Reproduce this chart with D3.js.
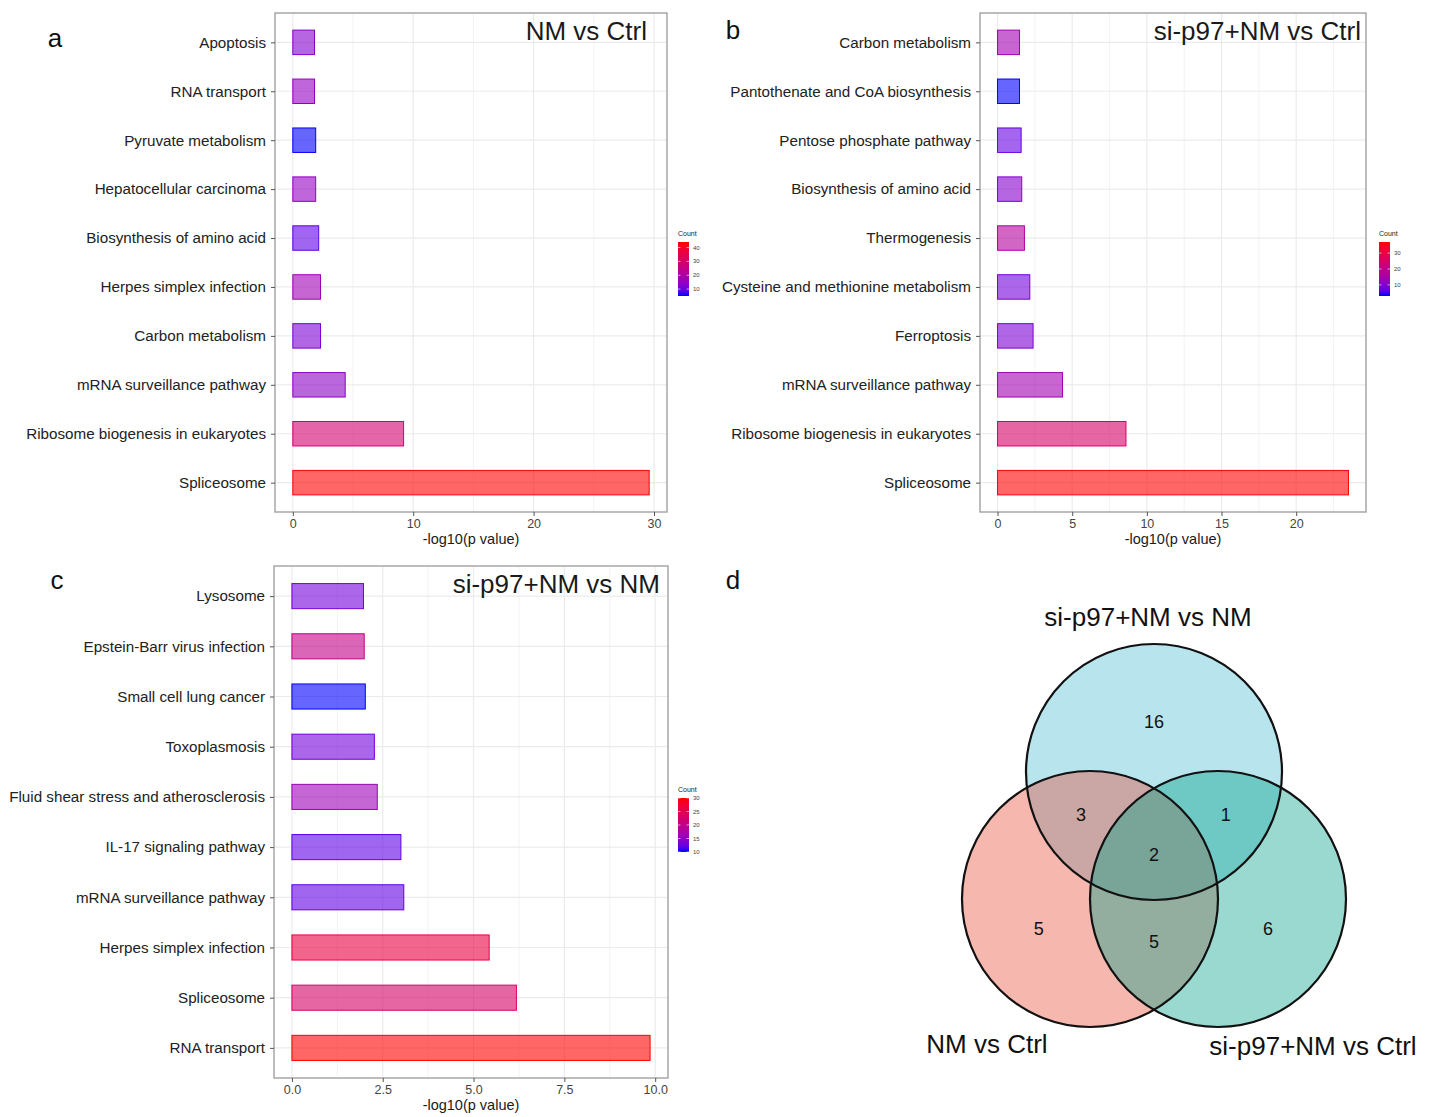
<!DOCTYPE html>
<html>
<head>
<meta charset="utf-8">
<script src="https://cdn.jsdelivr.net/npm/d3@7"></script>
<style>
  body { margin: 0; background: #fff; }
  svg { font-family: "Liberation Sans", Arial, sans-serif; }
</style>
</head>
<body>
<div id="chart"></div>
<script>
// ---- data ----
// panel a: NM vs Ctrl
const pathwaysA = ["Apoptosis", "RNA transport", "Pyruvate metabolism", "Hepatocellular carcinoma",
  "Biosynthesis of amino acid", "Herpes simplex infection", "Carbon metabolism",
  "mRNA surveillance pathway", "Ribosome biogenesis in eukaryotes", "Spliceosome"];
const logpA = [1.8, 1.8, 1.9, 1.9, 2.15, 2.3, 2.3, 4.35, 9.2, 29.6];
const countA = [13, 15, 5, 15, 9, 17, 12, 14, 29, 44];
const ticksA = [0, 10, 20, 30];
const legendTicksA = [10, 20, 30, 40];

// panel b: si-p97+NM vs Ctrl
const pathwaysB = ["Carbon metabolism", "Pantothenate and CoA biosynthesis", "Pentose phosphate pathway",
  "Biosynthesis of amino acid", "Thermogenesis", "Cysteine and methionine metabolism",
  "Ferroptosis", "mRNA surveillance pathway", "Ribosome biogenesis in eukaryotes", "Spliceosome"];
const logpB = [1.47, 1.47, 1.58, 1.62, 1.8, 2.16, 2.38, 4.35, 8.6, 23.5];
const countB = [14, 3, 7, 10, 17, 8, 9, 14, 25, 37];
const ticksB = [0, 5, 10, 15, 20];
const legendTicksB = [10, 20, 30];

// panel c: si-p97+NM vs NM
const pathwaysC = ["Lysosome", "Epstein-Barr virus infection", "Small cell lung cancer", "Toxoplasmosis",
  "Fluid shear stress and atherosclerosis", "IL-17 signaling pathway", "mRNA surveillance pathway",
  "Herpes simplex infection", "Spliceosome", "RNA transport"];
const logpC = [1.97, 1.99, 2.02, 2.27, 2.35, 3.0, 3.08, 5.43, 6.18, 9.86];
const countC = [13, 20, 10, 13, 16, 12, 12, 26, 23, 30];
const ticksC = [0, 2.5, 5, 7.5, 10];
const legendTicksC = [10, 15, 20, 25, 30];

// panel d: venn
const vennSets = ["si-p97+NM vs NM", "NM vs Ctrl", "si-p97+NM vs Ctrl"];
const vennRegions = ["A", "B", "C", "AB", "AC", "BC", "ABC"];
const vennCounts = [16, 5, 6, 3, 1, 5, 2];

// ---- layout ----
const W = 1436, H = 1117;
const svg = d3.select("#chart").append("svg")
  .attr("width", W).attr("height", H);

const gridCol = "#ebebeb";
const borderCol = "#9a9a9a";

function drawBarPanel(o) {
  const g = svg.append("g");
  const { left, right, top, bottom } = o.box;

  const maxV = d3.max(o.values);
  const x = d3.scaleLinear()
    .domain([-0.05 * maxV, 1.05 * maxV])
    .range([left, right]);
  const y = d3.scalePoint()
    .domain(o.names)
    .range([top, bottom])
    .padding(0.6);
  const barH = y.step() * 0.5;

  const color = d3.scaleLinear()
    .domain(d3.extent(o.counts))
    .range(["blue", "red"])
    .interpolate(d3.interpolateLab);

  // minor gridlines (midpoints)
  const minors = o.ticks.slice(1).map((t, i) => (t + o.ticks[i]) / 2);
  const lastStep = o.ticks[1] - o.ticks[0];
  const extraMinor = o.ticks[o.ticks.length - 1] + lastStep / 2;
  if (extraMinor < x.domain()[1]) minors.push(extraMinor);
  g.selectAll(".minor")
    .data(minors)
    .join("line")
    .attr("x1", d => x(d)).attr("x2", d => x(d))
    .attr("y1", top).attr("y2", bottom)
    .attr("stroke", gridCol).attr("stroke-width", 0.6);

  // major gridlines
  g.selectAll(".majorx")
    .data(o.ticks)
    .join("line")
    .attr("x1", d => x(d)).attr("x2", d => x(d))
    .attr("y1", top).attr("y2", bottom)
    .attr("stroke", gridCol).attr("stroke-width", 1.2);
  g.selectAll(".majory")
    .data(o.names)
    .join("line")
    .attr("x1", left).attr("x2", right)
    .attr("y1", d => y(d)).attr("y2", d => y(d))
    .attr("stroke", gridCol).attr("stroke-width", 1.2);

  // bars
  g.selectAll(".bar")
    .data(o.names)
    .join("rect")
    .attr("x", x(0))
    .attr("y", d => y(d) - barH / 2)
    .attr("width", (d, i) => x(o.values[i]) - x(0))
    .attr("height", barH)
    .attr("fill", (d, i) => color(o.counts[i]))
    .attr("fill-opacity", 0.6)
    .attr("stroke", (d, i) => color(o.counts[i]))
    .attr("stroke-width", 1);

  // panel border
  g.append("rect")
    .attr("x", left).attr("y", top)
    .attr("width", right - left).attr("height", bottom - top)
    .attr("fill", "none")
    .attr("stroke", borderCol).attr("stroke-width", 1.3);

  // x axis
  const xa = g.append("g")
    .attr("transform", `translate(0,${bottom})`)
    .call(d3.axisBottom(x).tickValues(o.ticks).tickFormat(o.fmt)
      .tickSize(4).tickPadding(3).tickSizeOuter(0));
  xa.select(".domain").remove();
  xa.selectAll(".tick line").attr("stroke", "#555");
  xa.selectAll(".tick text").attr("fill", "#444").style("font-size", "12.5px");

  // y axis
  const ya = g.append("g")
    .attr("transform", `translate(${left},0)`)
    .call(d3.axisLeft(y).tickSize(4).tickPadding(5).tickSizeOuter(0));
  ya.select(".domain").remove();
  ya.selectAll(".tick line").attr("stroke", "#555");
  ya.selectAll(".tick text").attr("fill", "#222").style("font-size", "15.2px");

  // axis title
  g.append("text")
    .attr("x", (left + right) / 2)
    .attr("y", bottom + 32)
    .attr("text-anchor", "middle")
    .style("font-size", "14.5px")
    .attr("fill", "#1a1a1a")
    .text("-log10(p value)");

  // panel title inside
  g.append("text")
    .attr("x", right - o.titleInset)
    .attr("y", top + 27)
    .attr("text-anchor", "end")
    .style("font-size", "26px")
    .attr("fill", "#1a1a1a")
    .text(o.title);

  // colour legend
  const lg = g.append("g").attr("transform", `translate(${o.legend[0]},${o.legend[1]})`);
  const barW = 11, barLen = 54;
  const gradId = "grad" + o.id;
  const grad = svg.append("defs").append("linearGradient")
    .attr("id", gradId)
    .attr("x1", 0).attr("y1", 1).attr("x2", 0).attr("y2", 0);
  d3.range(0, 1.0001, 0.1).forEach(t => {
    grad.append("stop")
      .attr("offset", t)
      .attr("stop-color", color(color.domain()[0] + t * (color.domain()[1] - color.domain()[0])));
  });
  lg.append("text")
    .attr("x", 0).attr("y", -2)
    .style("font-size", "7px")
    .attr("fill", "#222")
    .text("Count");
  lg.append("rect")
    .attr("x", 0).attr("y", 4)
    .attr("width", barW).attr("height", barLen)
    .attr("fill", `url(#${gradId})`);
  const ls = d3.scaleLinear().domain(color.domain()).range([4 + barLen, 4]);
  lg.selectAll(".lt")
    .data(o.legendTicks)
    .join("line")
    .attr("x1", 0).attr("x2", 2.5)
    .attr("y1", d => ls(d)).attr("y2", d => ls(d))
    .attr("stroke", "#fff").attr("stroke-width", 0.6);
  lg.selectAll(".lt2")
    .data(o.legendTicks)
    .join("line")
    .attr("x1", barW - 2.5).attr("x2", barW)
    .attr("y1", d => ls(d)).attr("y2", d => ls(d))
    .attr("stroke", "#fff").attr("stroke-width", 0.6);
  lg.selectAll(".ll")
    .data(o.legendTicks)
    .join("text")
    .attr("x", barW + 4)
    .attr("y", d => ls(d))
    .attr("dy", "0.35em")
    .style("font-size", "6px")
    .attr("fill", "#444")
    .text(d => d);
}

drawBarPanel({
  id: "a", names: pathwaysA, values: logpA, counts: countA,
  box: { left: 275, right: 667, top: 13, bottom: 512 },
  ticks: ticksA, fmt: d3.format("d"), legendTicks: legendTicksA,
  title: "NM vs Ctrl", titleInset: 20, legend: [678, 238]
});
drawBarPanel({
  id: "b", names: pathwaysB, values: logpB, counts: countB,
  box: { left: 980, right: 1366, top: 13, bottom: 512 },
  ticks: ticksB, fmt: d3.format("d"), legendTicks: legendTicksB,
  title: "si-p97+NM vs Ctrl", titleInset: 5, legend: [1379, 238]
});
drawBarPanel({
  id: "c", names: pathwaysC, values: logpC, counts: countC,
  box: { left: 274, right: 668, top: 566, bottom: 1078 },
  ticks: ticksC, fmt: d3.format(".1f"), legendTicks: legendTicksC,
  title: "si-p97+NM vs NM", titleInset: 8, legend: [678, 794]
});

// panel letters
const letters = [["a", 55, 38], ["b", 733, 30], ["c", 57, 580], ["d", 733, 580]];
svg.selectAll(".letter")
  .data(letters)
  .join("text")
  .attr("x", d => d[1]).attr("y", d => d[2])
  .attr("dy", "0.35em")
  .attr("text-anchor", "middle")
  .style("font-size", "26px")
  .attr("fill", "#111")
  .text(d => d[0]);

// ---- venn ----
const r = 128;
const vc = { x: 1154, y: 857 };
const circles = [
  { set: vennSets[0], cx: vc.x, cy: vc.y - 85, fill: "#4DBBD5" },
  { set: vennSets[1], cx: vc.x - 64, cy: vc.y + 42, fill: "#E64B35" },
  { set: vennSets[2], cx: vc.x + 64, cy: vc.y + 42, fill: "#00A087" }
];
const vg = svg.append("g");
vg.selectAll(".vfill")
  .data(circles)
  .join("circle")
  .attr("cx", d => d.cx).attr("cy", d => d.cy).attr("r", r)
  .attr("fill", d => d.fill).attr("fill-opacity", 0.4);
vg.selectAll(".vstroke")
  .data(circles)
  .join("circle")
  .attr("cx", d => d.cx).attr("cy", d => d.cy).attr("r", r)
  .attr("fill", "none").attr("stroke", "#111").attr("stroke-width", 2.2);

// region label anchors, in units of the radius from the venn centre
const regionOffset = {
  A: [0, -1.06], B: [-0.90, 0.56], C: [0.89, 0.56],
  AB: [-0.57, -0.33], AC: [0.56, -0.33], BC: [0, 0.66], ABC: [0, -0.02]
};
vg.selectAll(".vnum")
  .data(vennRegions)
  .join("text")
  .attr("x", d => vc.x + regionOffset[d][0] * r)
  .attr("y", d => vc.y + regionOffset[d][1] * r)
  .attr("dy", "0.35em")
  .attr("text-anchor", "middle")
  .style("font-size", "18px")
  .attr("fill", "#111")
  .text((d, i) => vennCounts[i]);

const setLabelPos = [[1148, 617], [987, 1044], [1313, 1046]];
vg.selectAll(".vset")
  .data(vennSets)
  .join("text")
  .attr("x", (d, i) => setLabelPos[i][0])
  .attr("y", (d, i) => setLabelPos[i][1])
  .attr("dy", "0.35em")
  .attr("text-anchor", "middle")
  .style("font-size", "26px")
  .attr("fill", "#111")
  .text(d => d);
</script>
</body>
</html>
